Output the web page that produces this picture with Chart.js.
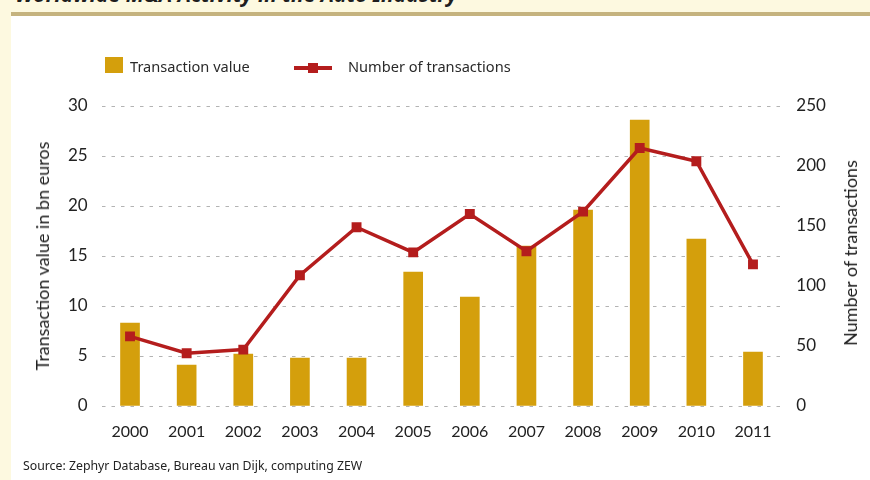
<!DOCTYPE html>
<html>
<head>
<meta charset="utf-8">
<script src="https://cdn.jsdelivr.net/npm/chart.js@4"></script>
<style>
  html, body { margin: 0; padding: 0; }
  body { width: 870px; height: 480px; position: relative; overflow: hidden; background: #fdf9e0; font-family: "Noto Sans", sans-serif; }
  #panel { position: absolute; left: 11px; top: 12px; right: 0; bottom: 0; background: #fff; border-top: 4px solid #c5b37f; }
  #title { position: absolute; left: 15px; top: -20px; font: italic bold 21px "Noto Sans", sans-serif; color: #1e1e1e; white-space: nowrap; }
  #wrap { position: absolute; left: 0; top: 0; width: 870px; height: 480px; }
  .leg { position: absolute; font-size: 14.6px; color: #2a2a2a; white-space: nowrap; }
  #source { position: absolute; left: 23px; top: 457px; font-size: 12.3px; color: #222; white-space: nowrap; }
  .ytitle { position: absolute; font: 18px Lato, sans-serif; color: #222; white-space: nowrap; transform: translate(-50%, -50%) rotate(-90deg); }
</style>
</head>
<body>
<div id="panel"></div>
<div id="title">Worldwide M&amp;A Activity in the Auto Industry</div>
<div id="wrap"><canvas id="chart" width="870" height="480"></canvas></div>

<div style="position:absolute;left:105px;top:57px;width:18px;height:16px;background:#d49f0c"></div>
<div class="leg" style="left:130px;top:56px">Transaction value</div>
<div style="position:absolute;left:294px;top:66px;width:38px;height:4px;background:#b41d1d"></div>
<div style="position:absolute;left:308px;top:63px;width:10px;height:10px;background:#b41d1d"></div>
<div class="leg" style="left:348px;top:56px">Number of transactions</div>

<div class="ytitle" style="left:42px;top:256px">Transaction value in bn euros</div>
<div class="ytitle" style="left:850px;top:253px">Number of transactions</div>
<div id="source">Source: Zephyr Database, Bureau van Dijk, computing ZEW</div>

<script>
const years = ['2000', '2001', '2002', '2003', '2004', '2005', '2006', '2007', '2008', '2009', '2010', '2011'];
const transactionValue = [8.3, 4.1, 5.2, 4.8, 4.8, 13.4, 10.9, 16.0, 19.6, 28.6, 16.7, 5.4];
const transactionCount = [58, 44, 47, 109, 149, 128, 160, 129, 162, 215, 204, 118];
const leftTicks = [0, 5, 10, 15, 20, 25, 30];
const rightTicks = [0, 50, 100, 150, 200, 250];

const tickFont = { family: 'Lato, sans-serif', size: 17 };

new Chart(document.getElementById('chart'), {
  data: {
    labels: years,
    datasets: [
      {
        type: 'line',
        label: 'Number of transactions',
        data: transactionCount,
        yAxisID: 'y2',
        borderColor: '#b41d1d',
        backgroundColor: '#b41d1d',
        borderWidth: 3.5,
        pointStyle: 'rect',
        pointRadius: 7,
        pointBorderWidth: 0,
        tension: 0,
        order: 0
      },
      {
        type: 'bar',
        label: 'Transaction value',
        data: transactionValue,
        yAxisID: 'y',
        backgroundColor: '#d49f0c',
        barThickness: 19,
        order: 1
      }
    ]
  },
  options: {
    responsive: false,
    animation: false,
    layout: { padding: { top: 106, left: 0, right: 0, bottom: 0 } },
    plugins: { legend: { display: false }, tooltip: { enabled: false } },
    scales: {
      x: {
        grid: { display: false, drawTicks: false },
        border: { display: false },
        ticks: { font: { family: 'Lato, sans-serif', size: 16 }, color: '#222', padding: 16, maxRotation: 0 },
        afterFit(s) { s.height = 74; }
      },
      y: {
        position: 'left',
        min: 0, max: 30,
        afterBuildTicks(s) { s.ticks = leftTicks.map(v => ({ value: v })); },
        grid: { color: '#b3b3b3', lineWidth: 1, drawTicks: false },
        border: { display: false, dash: [3.5, 6] },
        ticks: { font: tickFont, color: '#222', padding: 14 },
        afterFit(s) { s.width = 101.7; }
      },
      y2: {
        position: 'right',
        min: 0, max: 250,
        afterBuildTicks(s) { s.ticks = rightTicks.map(v => ({ value: v })); },
        grid: { display: false, drawTicks: false },
        border: { display: false },
        ticks: { font: tickFont, color: '#222', padding: 15 },
        afterFit(s) { s.width = 88.7; }
      }
    }
  }
});
</script>
</body>
</html>
